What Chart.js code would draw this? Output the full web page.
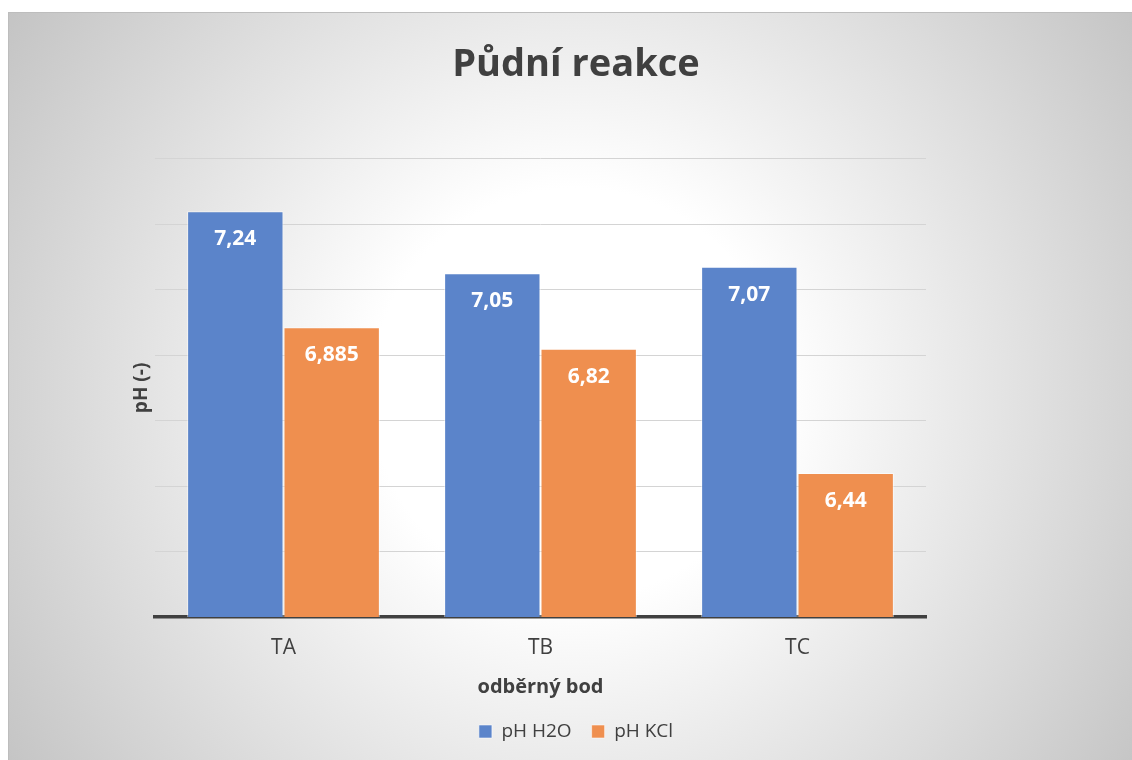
<!DOCTYPE html>
<html>
<head>
<meta charset="utf-8">
<script src="https://cdn.jsdelivr.net/npm/chart.js@4"></script>
<style>
  html, body { margin: 0; padding: 0; background: #fff; overflow: hidden; }
  #frame {
    position: absolute; left: 8px; top: 12px;
    width: 1134px; height: 760px;
    border-top: 1px solid #bdbdbd; border-left: 1px solid #bdbdbd;
  }
  canvas { display: block; }
</style>
</head>
<body>
<div id="frame"><canvas id="chart" width="1134" height="760"></canvas></div>
<script>
  const categories = ['TA', 'TB', 'TC'];
  const phH2O = [7.24, 7.05, 7.07];
  const phKCl = [6.885, 6.82, 6.44];
  const seriesNames = ['pH H2O', 'pH KCl'];

  const FONT = "'Open Sans', 'Liberation Sans', sans-serif";
  const TEXT = '#404040';

  // soft radial fill behind the whole chart, like the office template
  const backdrop = {
    id: 'backdrop',
    beforeDraw(chart) {
      const { ctx, width, height } = chart;
      const cx = width / 2, cy = height / 2;
      const g = ctx.createRadialGradient(cx, cy, 0, cx, cy, Math.hypot(cx, cy));
      g.addColorStop(0, '#ffffff');
      g.addColorStop(0.3, '#ffffff');
      g.addColorStop(1, '#c4c4c4');
      ctx.save();
      ctx.fillStyle = g;
      ctx.fillRect(0, 0, width, height);
      ctx.restore();
    },
  };

  // value labels inside the top of each bar
  const barLabels = {
    id: 'barLabels',
    afterDatasetsDraw(chart) {
      const { ctx } = chart;
      ctx.save();
      ctx.font = `bold 21px ${FONT}`;
      ctx.fillStyle = '#ffffff';
      ctx.textAlign = 'center';
      ctx.textBaseline = 'middle';
      chart.data.datasets.forEach((ds, i) => {
        chart.getDatasetMeta(i).data.forEach((bar, j) => {
          const txt = String(ds.data[j]).replace('.', ',');
          ctx.fillText(txt, bar.x, bar.y + 28);
        });
      });
      ctx.restore();
    },
  };

  new Chart(document.getElementById('chart'), {
    type: 'bar',
    data: {
      labels: categories,
      datasets: [
        {
          label: seriesNames[0],
          data: phH2O,
          backgroundColor: '#5b84ca',
          borderColor: 'rgba(255,255,255,0.55)',
          borderWidth: 1,
        },
        {
          label: seriesNames[1],
          data: phKCl,
          backgroundColor: '#ef8f4f',
          borderColor: 'rgba(255,255,255,0.55)',
          borderWidth: 1,
        },
      ],
    },
    options: {
      responsive: false,
      animation: false,
      categoryPercentage: 0.75,
      barPercentage: 1,
      layout: { padding: { left: 0, right: 0, top: 0, bottom: 22 } },
      scales: {
        x: {
          grid: { display: false, drawTicks: false },
          border: { display: true, color: '#404040', width: 3.5 },
          ticks: { color: TEXT, font: { family: FONT, size: 21 }, padding: 18 },
          title: {
            display: true,
            text: 'odběrný bod',
            color: TEXT,
            font: { family: FONT, size: 20, weight: 'bold' },
            padding: { top: 0, bottom: 3 },
          },
          afterFit: (s) => { s.height = 85; },
        },
        y: {
          min: 6,
          max: 7.4,
          ticks: { display: false, stepSize: 0.2 },
          grid: { color: '#d4d4d4', lineWidth: 1, drawTicks: false },
          border: { display: false },
          title: {
            display: true,
            text: 'pH (-)',
            color: TEXT,
            font: { family: FONT, size: 19, weight: 'bold' },
            padding: { top: 121, bottom: 0 },
          },
          afterFit: (s) => { s.width = 146; },
        },
        // empty axis on the right to keep the plot off-centre like the original
        yRight: {
          position: 'right',
          display: true,
          grid: { display: false },
          ticks: { display: false },
          border: { display: false },
          afterFit: (s) => { s.width = 217; },
        },
      },
      plugins: {
        title: {
          display: true,
          text: 'Půdní reakce',
          color: TEXT,
          font: { family: FONT, size: 38, weight: 'bold' },
          padding: { top: 29, bottom: 71.2 },
        },
        legend: {
          position: 'bottom',
          labels: {
            color: TEXT,
            font: { family: FONT, size: 19 },
            boxWidth: 13,
            boxHeight: 13,
            padding: 20,
          },
        },
        tooltip: { enabled: false },
      },
    },
    plugins: [backdrop, barLabels],
  });
</script>
</body>
</html>
